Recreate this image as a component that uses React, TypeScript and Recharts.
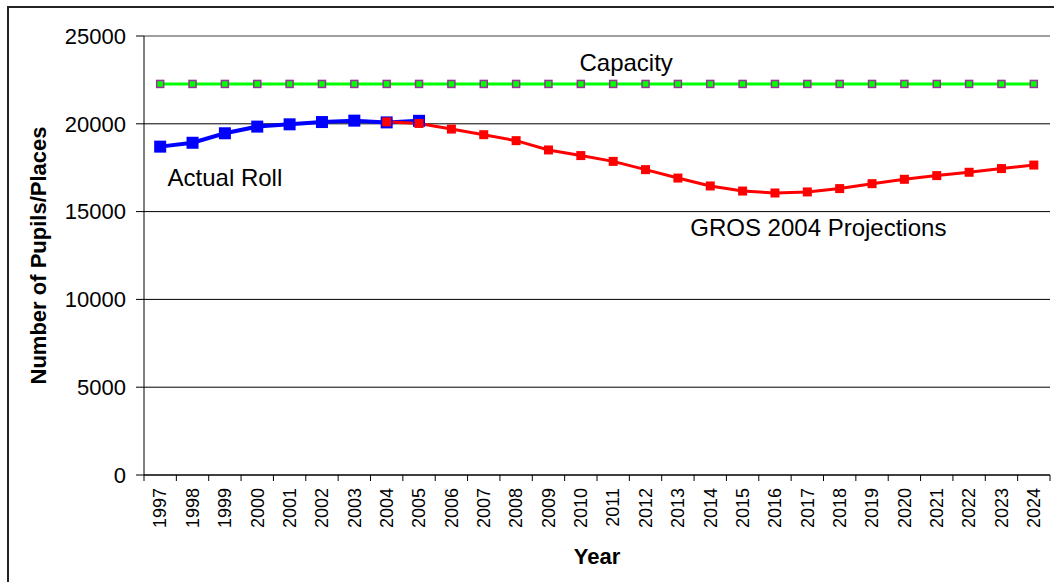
import { LineChart, Line, XAxis, YAxis, CartesianGrid, ReferenceLine, ReferenceDot } from "recharts"

const years = [
  "1997", "1998", "1999", "2000", "2001", "2002", "2003", "2004", "2005", "2006",
  "2007", "2008", "2009", "2010", "2011", "2012", "2013", "2014", "2015", "2016",
  "2017", "2018", "2019", "2020", "2021", "2022", "2023", "2024",
]

const capacity = [
  22270, 22270, 22270, 22270, 22270, 22270, 22270, 22270, 22270, 22270,
  22270, 22270, 22270, 22270, 22270, 22270, 22270, 22270, 22270, 22270,
  22270, 22270, 22270, 22270, 22270, 22270, 22270, 22270,
]

const actualRoll = [
  18700, 18920, 19460, 19840, 19970, 20100, 20180, 20080, 20170, null,
  null, null, null, null, null, null, null, null, null, null,
  null, null, null, null, null, null, null, null,
]

const projections = [
  null, null, null, null, null, null, null, 20110, 20020, 19700,
  19380, 19040, 18510, 18190, 17860, 17390, 16910, 16460, 16170, 16060,
  16120, 16310, 16590, 16840, 17050, 17240, 17450, 17650,
]

const yTicks = [0, 5000, 10000, 15000, 20000, 25000]

const font = "'Liberation Sans', Arial, sans-serif"

const chartData = years.map((year, i) => ({
  year,
  capacity: capacity[i],
  actual: actualRoll[i],
  projection: projections[i],
}))

const square = (size: number, fill: string, stroke?: string, strokeWidth = 0) => (props: any) => {
  const { cx, cy, index } = props
  if (cx == null || cy == null) return <g key={index} />
  return (
    <rect
      key={index}
      x={cx - size / 2}
      y={cy - size / 2}
      width={size}
      height={size}
      fill={fill}
      stroke={stroke ?? fill}
      strokeWidth={strokeWidth}
    />
  )
}

// year label plus an Excel-style tick mark on the category boundaries
const YearTick = (props: any) => {
  const { x, y, payload, index, visibleTicksCount } = props
  const half = payload.offset || 0
  const axisY = y - 2
  const ty = y + 11
  return (
    <g>
      <line x1={x - half} x2={x - half} y1={axisY} y2={axisY + 6} stroke="#000" />
      {index === visibleTicksCount - 1 && (
        <line x1={x + half} x2={x + half} y1={axisY} y2={axisY + 6} stroke="#000" />
      )}
      <text
        x={x}
        y={ty}
        transform={`rotate(-90 ${x} ${ty})`}
        textAnchor="end"
        dy="0.35em"
        fontSize={18}
        fontFamily={font}
        fill="#000"
      >
        {payload.value}
      </text>
    </g>
  )
}

const annotation = { fontSize: 24, fontFamily: font, fill: "#000" }

export default function App() {
  return (
    <div
      style={{
        position: "absolute",
        left: 7,
        top: 6,
        width: 1047,
        height: 576,
        boxSizing: "border-box",
        borderLeft: "2px solid #222",
        borderTop: "2px solid #222",
        overflow: "hidden",
        background: "#fff",
      }}
    >
      <LineChart width={1045} height={574} data={chartData} margin={{ top: 28, right: 4, bottom: 0, left: 0 }}>
        <CartesianGrid vertical={false} stroke="#000" />
        <ReferenceLine y={25000} stroke="#c0c0c0" />

        <XAxis
          dataKey="year"
          scale="band"
          interval={0}
          height={107}
          stroke="#000"
          tickLine={false}
          tickSize={0}
          tickMargin={2}
          tick={<YearTick />}
          label={{
            value: "Year",
            position: "insideBottom",
            offset: 18,
            style: { fontSize: 22, fontWeight: "bold", fontFamily: font, fill: "#000" },
          }}
        />
        <YAxis
          domain={[0, 25000]}
          ticks={yTicks}
          width={135}
          tickSize={8}
          tickMargin={10}
          stroke="#000"
          tick={{ fontSize: 22, fontFamily: font, fill: "#000" }}
          label={{
            value: "Number of Pupils/Places",
            angle: -90,
            position: "insideLeft",
            offset: 29,
            style: { textAnchor: "middle", fontSize: 22, fontWeight: "bold", fontFamily: font, fill: "#000" },
          }}
        />
        <YAxis
          yAxisId="r"
          orientation="right"
          domain={[0, 25000]}
          width={0}
          tick={false}
          tickLine={false}
          axisLine={{ stroke: "#c0c0c0" }}
        />

        <Line
          dataKey="capacity"
          stroke="#00ff00"
          strokeWidth={3}
          dot={square(7, "#00ff00", "#993399", 1.5)}
          isAnimationActive={false}
        />
        <Line
          dataKey="actual"
          stroke="#0000ff"
          strokeWidth={4}
          dot={square(12, "#0000ff")}
          isAnimationActive={false}
        />
        <Line
          dataKey="projection"
          stroke="#ff0000"
          strokeWidth={3}
          dot={square(9, "#ff0000")}
          isAnimationActive={false}
        />

        <ReferenceDot x="2011" y={23520} r={0} label={{ value: "Capacity", position: "center", dx: 13, style: annotation }} />
        <ReferenceDot x="1999" y={16940} r={0} label={{ value: "Actual Roll", position: "center", style: annotation }} />
        <ReferenceDot
          x="2017"
          y={14070}
          r={0}
          label={{ value: "GROS 2004 Projections", position: "center", dx: 11, style: annotation }}
        />
      </LineChart>
    </div>
  )
}
